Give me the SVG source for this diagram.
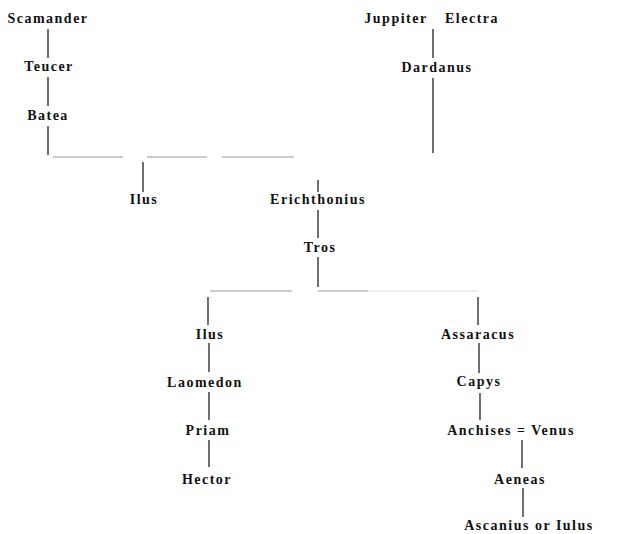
<svg xmlns="http://www.w3.org/2000/svg" width="627" height="534" viewBox="0 0 627 534">
<style>
text{font-family:"Liberation Serif","Times New Roman",serif;font-weight:bold;font-size:14px;letter-spacing:1.5px;fill:#111;text-anchor:middle}
.v{stroke:#222;stroke-width:1.3;fill:none}
.h{stroke:#999;stroke-width:1.2;fill:none}
.hf{stroke:#ddd;stroke-width:1.2;fill:none}
</style>
<rect width="627" height="534" fill="#fff"/>
<g id="connectors">
<line class="v" x1="48" y1="29" x2="48" y2="58"/>
<line class="v" x1="48" y1="77" x2="48" y2="106"/>
<line class="v" x1="48" y1="126" x2="48" y2="155"/>
<line class="h" x1="53" y1="157" x2="123" y2="157"/>
<line class="h" x1="147" y1="157" x2="207" y2="157"/>
<line class="h" x1="222" y1="157" x2="294" y2="157"/>
<line class="v" x1="433" y1="29" x2="433" y2="58"/>
<line class="v" x1="433" y1="78" x2="433" y2="153"/>
<line class="v" x1="143" y1="162" x2="143" y2="192"/>
<line class="v" x1="318" y1="180" x2="318" y2="192" stroke="#777"/>
<line class="v" x1="318" y1="210" x2="318" y2="238"/>
<line class="v" x1="318" y1="257" x2="318" y2="287"/>
<line class="h" x1="210" y1="291" x2="292" y2="291"/>
<line class="h" x1="318" y1="291" x2="368" y2="291"/>
<line class="hf" x1="368" y1="291" x2="478" y2="291"/>
<line class="v" x1="208" y1="297" x2="208" y2="325"/>
<line class="v" x1="209" y1="343" x2="209" y2="372"/>
<line class="v" x1="209" y1="392" x2="209" y2="420"/>
<line class="v" x1="209" y1="440" x2="209" y2="467"/>
<line class="v" x1="478" y1="297" x2="478" y2="325" stroke="#555"/>
<line class="v" x1="479" y1="343" x2="479" y2="373"/>
<line class="v" x1="480" y1="393" x2="480" y2="420"/>
<line class="v" x1="522" y1="440" x2="522" y2="468"/>
<line class="v" x1="523" y1="488" x2="523" y2="517"/>
</g>
<g id="scamander"><text x="48" y="23">Scamander</text></g>
<g id="teucer"><text x="49" y="71">Teucer</text></g>
<g id="batea"><text x="48" y="120">Batea</text></g>
<g id="juppiter"><text x="396" y="23">Juppiter</text></g>
<g id="electra"><text x="472" y="23">Electra</text></g>
<g id="dardanus"><text x="437" y="72">Dardanus</text></g>
<g id="ilus1"><text x="144" y="204">Ilus</text></g>
<g id="erichthonius"><text x="318" y="204">Erichthonius</text></g>
<g id="tros"><text x="320" y="252">Tros</text></g>
<g id="ilus2"><text x="210" y="339">Ilus</text></g>
<g id="laomedon"><text x="205" y="387">Laomedon</text></g>
<g id="priam"><text x="208" y="435">Priam</text></g>
<g id="hector"><text x="207" y="484">Hector</text></g>
<g id="assaracus"><text x="478" y="339">Assaracus</text></g>
<g id="capys"><text x="479" y="386">Capys</text></g>
<g id="anchises"><text x="511" y="435">Anchises = Venus</text></g>
<g id="aeneas"><text x="520" y="484">Aeneas</text></g>
<g id="ascanius"><text x="529" y="530">Ascanius or Iulus</text></g>
</svg>
